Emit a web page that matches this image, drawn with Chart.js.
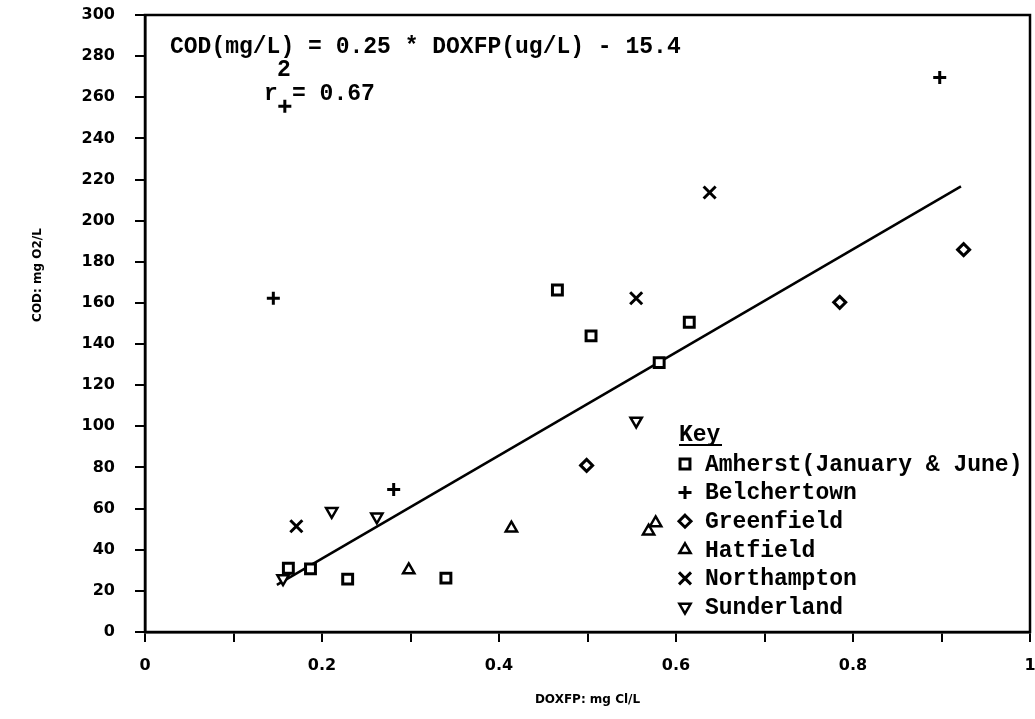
<!DOCTYPE html>
<html lang="en">
<head>
  <meta charset="UTF-8">
  <title>COD vs DOXFP</title>
  <script src="https://cdn.jsdelivr.net/npm/chart.js"></script>
  <style>
    html, body { margin: 0; padding: 0; background: #fff; }
  </style>
</head>
<body>
  <canvas id="codChart" width="1035" height="719"></canvas>

  <script>
    // Points: [DOXFP mg Cl/L, COD mg O2/L]
    const amherst = [[0.162, 31], [0.187, 30.7], [0.229, 25.7], [0.340, 26.2], [0.466, 166.3], [0.504, 144], [0.581, 131], [0.615, 150.6]];
    const belchertown = [[0.145, 162.3], [0.158, 255.6], [0.281, 69.3], [0.898, 269.6]];
    const greenfield = [[0.499, 81], [0.785, 160.3], [0.925, 185.9]];
    const hatfield = [[0.298, 30.2], [0.414, 50.5], [0.569, 49], [0.577, 53]];
    const northampton = [[0.171, 51.4], [0.555, 162.3], [0.638, 213.7]];
    const sunderland = [[0.156, 26], [0.211, 58.7], [0.262, 56], [0.555, 102.6]];

    // ends of the fitted line as drawn
    const fitLine = [[0.149, 22.9], [0.922, 216.7]];

    const seriesNames = ['Amherst(January & June)', 'Belchertown', 'Greenfield', 'Hatfield', 'Northampton', 'Sunderland'];
    const xTickLabels = ['0', '0.2', '0.4', '0.6', '0.8', '1'];
    const equationText = 'COD(mg/L) = 0.25 * DOXFP(ug/L) - 15.4';
    const r2Text = '= 0.67';
    const yTitle = 'COD: mg O2/L';

    const toXY = pts => pts.map(p => ({ x: p[0], y: p[1] }));

    // marker look for each series (same order as seriesNames)
    const markers = [
      { style: 'rect', radius: 7, width: 3, rot: 0 },
      { style: 'cross', radius: 6.5, width: 3, rot: 0 },
      { style: 'rectRot', radius: 6, width: 3, rot: 0 },
      { style: 'triangle', radius: 6.5, width: 2.5, rot: 0 },
      { style: 'crossRot', radius: 8.5, width: 3, rot: 0 },
      { style: 'triangle', radius: 6.5, width: 2.5, rot: 180 }
    ];
    const seriesData = [amherst, belchertown, greenfield, hatfield, northampton, sunderland];

    const scatterSets = seriesData.map((pts, i) => ({
      type: 'scatter',
      label: seriesNames[i],
      data: toXY(pts),
      pointStyle: markers[i].style,
      pointRadius: markers[i].radius,
      pointRotation: markers[i].rot,
      pointBorderWidth: markers[i].width,
      pointBorderColor: '#000',
      pointBackgroundColor: '#fff',
      order: 0
    }));

    // draws a legend symbol the same way Chart.js draws the point styles
    function drawMarker(ctx, m, x, y) {
      ctx.save();
      ctx.translate(x, y);
      ctx.rotate(m.rot * Math.PI / 180);
      ctx.lineWidth = m.width;
      ctx.strokeStyle = '#000';
      ctx.fillStyle = '#fff';
      const r = m.radius;
      ctx.beginPath();
      if (m.style === 'rect') {
        const s = Math.SQRT1_2 * r;
        ctx.rect(-s, -s, 2 * s, 2 * s);
        ctx.fill(); ctx.stroke();
      } else if (m.style === 'rectRot') {
        ctx.moveTo(0, -r); ctx.lineTo(r, 0); ctx.lineTo(0, r); ctx.lineTo(-r, 0); ctx.closePath();
        ctx.fill(); ctx.stroke();
      } else if (m.style === 'triangle') {
        for (let k = 0; k < 3; k++) {
          const a = -Math.PI / 2 + k * 2 * Math.PI / 3;
          ctx[k ? 'lineTo' : 'moveTo'](Math.cos(a) * r, Math.sin(a) * r);
        }
        ctx.closePath();
        ctx.fill(); ctx.stroke();
      } else if (m.style === 'cross') {
        ctx.moveTo(0, -r); ctx.lineTo(0, r); ctx.moveTo(-r, 0); ctx.lineTo(r, 0);
        ctx.stroke();
      } else if (m.style === 'crossRot') {
        const s = Math.SQRT1_2 * r;
        ctx.moveTo(-s, -s); ctx.lineTo(s, s); ctx.moveTo(-s, s); ctx.lineTo(s, -s);
        ctx.stroke();
      }
      ctx.restore();
    }

    const typewriter = 'bold 23px "Liberation Mono", "DejaVu Sans Mono", monospace';
    const plotRight = 1030;

    // the auto layout keeps some room for the last x label; the frame in the scan runs to the edge
    const widenPlot = {
      id: 'widenPlot',
      afterLayout(chart) {
        const xs = chart.scales.x;
        chart.chartArea.right = plotRight;
        chart.chartArea.width = plotRight - chart.chartArea.left;
        xs.right = plotRight;
        xs.width = plotRight - xs.left;
        xs.configure();
      }
    };

    const annotations = {
      id: 'annotations',
      afterDraw(chart) {
        const ctx = chart.ctx;
        const a = chart.chartArea;
        ctx.save();
        // frame round the plot
        ctx.strokeStyle = '#000';
        ctx.lineWidth = 2.5;
        ctx.strokeRect(a.left, a.top, a.right - a.left, a.bottom - a.top);

        // y axis title, sits above the middle in the original
        ctx.save();
        ctx.translate(38, 275);
        ctx.rotate(-Math.PI / 2);
        ctx.font = 'bold 12px "DejaVu Sans"';
        ctx.fillStyle = '#000';
        ctx.textAlign = 'center';
        ctx.textBaseline = 'middle';
        ctx.fillText(yTitle, 0, 0);
        ctx.restore();

        // regression equation
        ctx.fillStyle = '#000';
        ctx.font = typewriter;
        ctx.textBaseline = 'alphabetic';
        ctx.textAlign = 'left';
        ctx.fillText(equationText, 170, 53);
        ctx.fillText('r', 264, 100);
        ctx.fillText('2', 277, 76);
        ctx.fillText(r2Text, 292, 100);

        // key
        ctx.fillText('Key', 679, 441);
        ctx.lineWidth = 2;
        ctx.beginPath();
        ctx.moveTo(679, 445);
        ctx.lineTo(722, 445);
        ctx.stroke();
        seriesNames.forEach((name, i) => {
          const y = 464 + i * 28.6;
          drawMarker(ctx, markers[i], 685, y);
          ctx.fillStyle = '#000';
          ctx.font = typewriter;
          ctx.textBaseline = 'middle';
          ctx.fillText(name, 705, y + 1);
        });
        ctx.restore();
      }
    };

    const tickFont = { family: 'DejaVu Sans', weight: 'bold', size: 16 };
    const titleFont = { family: 'DejaVu Sans', weight: 'bold', size: 12 };

    new Chart(document.getElementById('codChart'), {
      data: {
        datasets: [
          {
            type: 'line',
            label: 'fit',
            data: toXY(fitLine),
            borderColor: '#000',
            borderWidth: 2.5,
            pointRadius: 0,
            fill: false,
            order: 10
          },
          ...scatterSets
        ]
      },
      options: {
        responsive: false,
        devicePixelRatio: 1,
        animation: false,
        layout: { padding: { top: 15, right: 5, left: 0, bottom: 0 } },
        plugins: {
          legend: { display: false },
          tooltip: { enabled: false }
        },
        scales: {
          x: {
            type: 'linear',
            min: 0,
            max: 1,
            afterFit: scale => {
              scale.height = 87;
              scale.paddingLeft = 0;
              scale.paddingRight = 0;
            },
            ticks: {
              stepSize: 0.1,
              autoSkip: false,
              maxRotation: 0,
              padding: 14,
              color: '#000',
              font: tickFont,
              callback: v => {
                const i = Math.round(v * 10);
                return i % 2 === 0 ? xTickLabels[i / 2] : '';
              }
            },
            grid: { drawOnChartArea: false, drawTicks: true, tickLength: 10, color: '#000', lineWidth: 2 },
            border: { display: true, color: '#000', width: 2.5 },
            title: { display: true, text: 'DOXFP: mg Cl/L', color: '#000', font: titleFont, padding: { top: 0, bottom: 12 } }
          },
          y: {
            type: 'linear',
            min: 0,
            max: 300,
            afterFit: scale => {
              scale.width = 145;
              scale.paddingTop = 0;
              scale.paddingBottom = 0;
            },
            ticks: { stepSize: 20, padding: 20, color: '#000', font: tickFont },
            grid: { drawOnChartArea: false, drawTicks: true, tickLength: 10, color: '#000', lineWidth: 2 },
            border: { display: true, color: '#000', width: 2.5 }
          }
        }
      },
      plugins: [widenPlot, annotations]
    });
  </script>
</body>
</html>
